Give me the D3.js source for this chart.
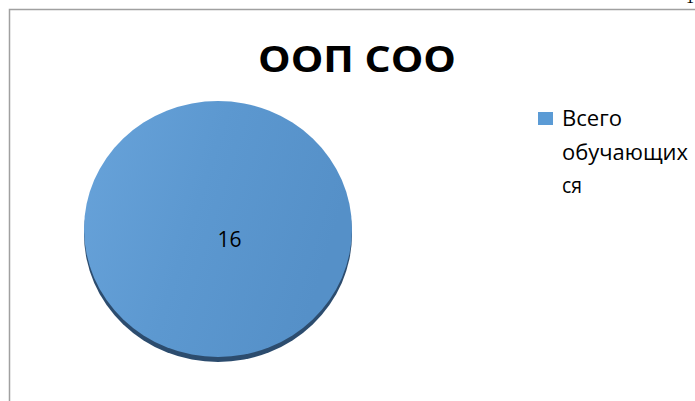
<!DOCTYPE html>
<html><head><meta charset="utf-8">
<script src="https://cdn.jsdelivr.net/npm/d3@7/dist/d3.min.js"></script>
<style>html,body{margin:0;padding:0;background:#fff;overflow:hidden}</style>
</head><body>
<svg id="c" width="695" height="401"></svg>
<script>
const title = "ООП СОО";
const categories = ["Всего обучающихся"];
const values = [16];
const legendLines = ["Всего", "обучающих", "ся"];
const colors = ["#5b9bd5"];

(function(){
const svg = d3.select("#c");
const defs = svg.append("defs");
const g1 = defs.append("linearGradient").attr("id","gTop")
  .attr("x1","0").attr("y1","0").attr("x2","1").attr("y2","0.3");
g1.append("stop").attr("offset","0").attr("stop-color","#68a3da");
g1.append("stop").attr("offset","0.5").attr("stop-color","#5c98d0");
g1.append("stop").attr("offset","1").attr("stop-color","#5590c8");

// chart object border
svg.append("rect").attr("x",9.5).attr("y",9.5).attr("width",720).attr("height",420)
  .attr("fill","none").attr("stroke","#a0a0a0").attr("stroke-width",1.5);
// stray page number fragment
svg.append("text").attr("x",690).attr("y",3).attr("text-anchor","middle")
  .attr("font-family","Liberation Serif").attr("font-size",16).attr("fill","#000").text("1");

// title
svg.append("text").attr("x",357).attr("y",72).attr("text-anchor","middle")
  .attr("font-family","Open Sans").attr("font-weight","bold").attr("font-size",36)
  .attr("textLength",198).attr("lengthAdjust","spacingAndGlyphs")
  .attr("fill","#000").text(title);

// pie (3D-look ellipse)
const cx = 218, cy = 229, rx = 134, ry = 128, depth = 5;
const pie = d3.pie().sort(null).value(d => d);
const arcs = pie(values);
const arc = d3.arc().innerRadius(0).outerRadius(rx);

const sideG = svg.append("g").attr("transform",`translate(${cx},${cy+depth}) scale(1,${ry/rx})`);
sideG.selectAll("path").data(arcs).join("path").attr("d",arc).attr("fill","#2c4c6e");
const topG = svg.append("g").attr("transform",`translate(${cx},${cy}) scale(1,${ry/rx})`);
topG.selectAll("path").data(arcs).join("path").attr("d",arc).attr("fill","url(#gTop)");

// data label
svg.selectAll("text.lbl").data(arcs).join("text").attr("class","lbl")
  .attr("x", cx + 11.5).attr("y", 247).attr("text-anchor","middle")
  .attr("font-family","Open Sans").attr("font-size",21).attr("fill","#000")
  .text(d => d.data);

// legend
const lg = svg.append("g");
lg.append("rect").attr("x",538).attr("y",112).attr("width",15).attr("height",13).attr("fill",colors[0]);
const widths = [60, 126, 20];
const baselines = [126, 160, 193];
lg.selectAll("text").data(legendLines).join("text")
  .attr("x",562).attr("y",(d,i)=>baselines[i])
  .attr("font-family","Open Sans").attr("font-size",22).attr("fill","#000")
  .attr("textLength",(d,i)=>widths[i]).attr("lengthAdjust","spacingAndGlyphs")
  .text(d=>d);
})();
</script>
</body></html>
